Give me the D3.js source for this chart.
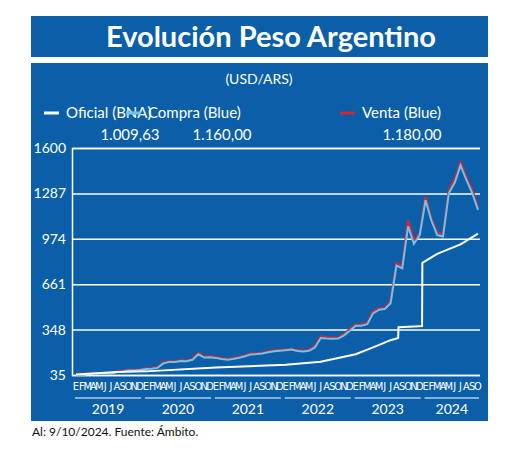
<!DOCTYPE html>
<html>
<head>
<meta charset="utf-8">
<script src="https://cdn.jsdelivr.net/npm/d3@7"></script>
<style>
  body { margin: 0; background: #fff; }
  text { font-family: Lato, "Open Sans", sans-serif; }
</style>
</head>
<body>
<svg id="chart" width="520" height="454"></svg>
<script>
// months since Jan 2019 (0 = Jan 2019, 69 = Oct 2024)
var months = d3.range(70);
var monthLetters = ["E","F","M","A","M","J","J","A","S","O","N","D"];
var years = ["2019","2020","2021","2022","2023","2024"];
var yTicks = [35, 348, 661, 974, 1287, 1600];

var compra = [37,38,41,44,44,43,42,56,58,66,66,69,
  76,78,84,115,125,124,132,130,140,178,155,158,
  153,145,140,146,154,164,177,179,183,192,198,202,
  206,210,200,197,202,225,290,287,285,286,308,340,
  375,375,385,460,485,490,530,790,770,1060,940,1000,
  1240,1100,1000,990,1290,1360,1480,1380,1290,1173];
var venta = [39,40,43,46,46,45,44,59,61,70,70,73,
  80,82,88,122,130,128,136,134,146,188,162,165,
  158,150,145,152,158,170,183,184,189,198,204,207,
  211,215,205,203,207,235,300,296,292,294,316,350,
  382,384,395,475,494,497,545,805,785,1100,960,1010,
  1260,1110,1015,1005,1310,1385,1500,1400,1310,1190];

// official rate: fractional month index so the jumps stay vertical
var oficialT = [0,7,12,24,36,42,48,51,54,55.3,55.35,58,59.4,59.45,62,66,69];
var oficialV = [38,55,60,87,105,126,178,225,275,290,365,370,372,808,870,935,1010];

var svg = d3.select("#chart");
var blue = "#0a5fa8";

svg.append("rect").attr("x", 31).attr("y", 16).attr("width", 457).attr("height", 41).attr("fill", blue);
svg.append("text").attr("x", 271).attr("y", 47).attr("text-anchor", "middle")
  .attr("fill", "#fff").attr("font-size", 29).attr("font-weight", 700)
  .text("Evolución Peso Argentino");

svg.append("rect").attr("x", 31).attr("y", 63).attr("width", 457).attr("height", 358).attr("fill", blue);
svg.append("text").attr("x", 259).attr("y", 84).attr("text-anchor", "middle")
  .attr("fill", "#fff").attr("font-size", 14).text("(USD/ARS)");

// legend
var legend = [
  {name: "Oficial (BNA)", color: "#fff", x: 44, value: "1.009,63", vx: 130},
  {name: "Compra (Blue)", color: "#6cc3ec", x: 126, value: "1.160,00", vx: 222},
  {name: "Venta (Blue)", color: "#d9252f", x: 340, value: "1.180,00", vx: 412}
];
legend.forEach(function (d) {
  svg.append("line").attr("x1", d.x).attr("x2", d.x + 15).attr("y1", 113).attr("y2", 113)
    .attr("stroke", d.color).attr("stroke-width", 3);
  svg.append("text").attr("x", d.x + 22).attr("y", 118).attr("fill", "#fff")
    .attr("font-size", 15).text(d.name);
  svg.append("text").attr("x", d.vx).attr("y", 140).attr("fill", "#fff")
    .attr("text-anchor", "middle").attr("font-size", 15).text(d.value);
});

var x = d3.scaleLinear().domain([0, 69]).range([76, 478]);
var y = d3.scaleLinear().domain([35, 1600]).range([375, 148]);

// gridlines + y labels
var yAxis = svg.append("g").attr("transform", "translate(72,0)")
  .call(d3.axisLeft(y).tickValues(yTicks).tickSize(-408).tickFormat(d3.format("d")).tickPadding(6));
yAxis.select(".domain").attr("stroke", "#fff").attr("stroke-width", 1.5);
yAxis.selectAll(".tick line").attr("stroke", "#fff").attr("stroke-width", 1.5);
yAxis.selectAll(".tick text").attr("fill", "#fff").attr("font-size", 14)
  .style("font-family", "Lato, sans-serif");

var line = d3.line().x(function (d) { return x(d[0]); }).y(function (d) { return y(d[1]); });

svg.append("path").datum(months.map(function (m) { return [m, venta[m]]; }))
  .attr("d", line).attr("fill", "none").attr("stroke", "#d9252f").attr("stroke-width", 2.5);
svg.append("path").datum(months.map(function (m) { return [m, compra[m]]; }))
  .attr("d", line).attr("fill", "none").attr("stroke", "#6cc3ec").attr("stroke-width", 2);
svg.append("path").datum(oficialT.map(function (t, i) { return [t, oficialV[i]]; }))
  .attr("d", line).attr("fill", "none").attr("stroke", "#fff").attr("stroke-width", 2);

// month letters
svg.append("g").selectAll("text").data(months).join("text")
  .attr("x", function (m) { return x(m); }).attr("y", 390)
  .attr("text-anchor", "middle").attr("fill", "#fff").attr("font-size", 11)
  .style("font-family", "'Liberation Sans Narrow', 'DejaVu Sans Condensed', sans-serif")
  .text(function (m) { return monthLetters[m % 12]; });

// year bars + labels
years.forEach(function (yr, i) {
  var m0 = i * 12, m1 = Math.min(i * 12 + 11, 69);
  svg.append("line").attr("x1", x(m0) - 1).attr("x2", x(m1) + 1).attr("y1", 398).attr("y2", 398)
    .attr("stroke", "#fff").attr("stroke-width", 1.2);
  svg.append("text").attr("x", (x(m0) + x(m1)) / 2).attr("y", 414).attr("text-anchor", "middle")
    .attr("fill", "#fff").attr("font-size", 14).text(yr);
});

svg.append("text").attr("x", 32).attr("y", 436).attr("fill", "#111").attr("font-size", 12)
  .text("Al: 9/10/2024. Fuente: Ámbito.");
</script>
</body>
</html>
